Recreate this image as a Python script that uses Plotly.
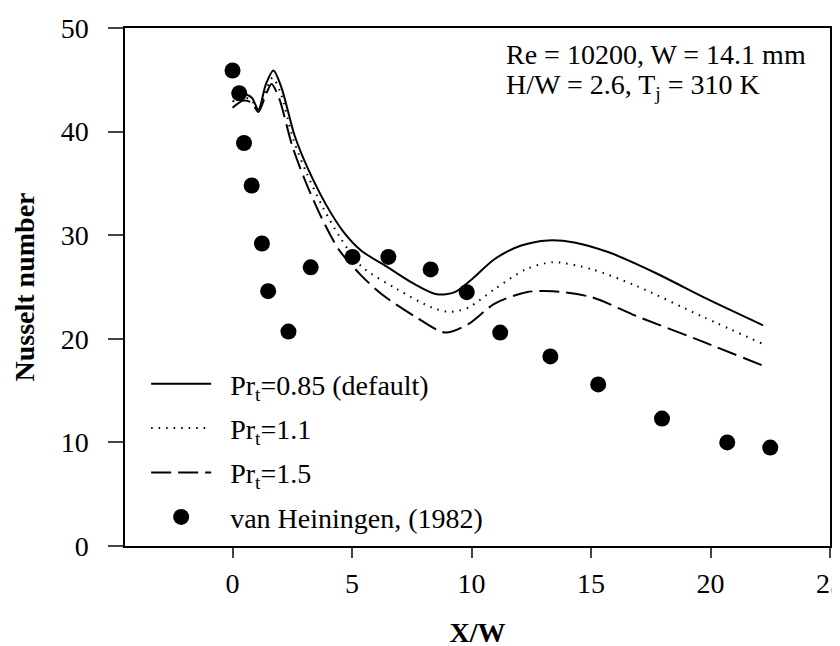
import plotly.graph_objects as go

# Experimental data (van Heiningen, 1982)
exp_x = [0.0, 0.28, 0.48, 0.8, 1.23, 1.49, 2.34, 3.27, 5.02, 6.52, 8.29, 9.8, 11.2, 13.3, 15.3, 17.97, 20.7, 22.5]
exp_y = [45.9, 43.7, 38.9, 34.8, 29.2, 24.6, 20.7, 26.9, 27.9, 27.9, 26.7, 24.5, 20.6, 18.3, 15.6, 12.3, 10.0, 9.5]

# Pr_t = 0.85 (default)
s_x = [0.0, 0.45, 0.8, 1.08, 1.4, 1.71, 2.04, 2.6, 3.16, 3.9, 4.65, 5.39, 6.5, 7.6, 8.55, 9.3, 10.04, 10.97, 12.08, 13.2, 14.3, 15.8, 17.66, 19.9, 22.2]
s_y = [43.3, 43.6, 43.3, 42.1, 44.6, 45.9, 44.3, 39.6, 36.4, 33.0, 30.3, 28.5, 26.9, 25.3, 24.3, 24.5, 25.8, 27.7, 29.0, 29.5, 29.3, 28.3, 26.4, 23.8, 21.3]

# Pr_t = 1.1
d_x = [0.0, 0.45, 0.8, 1.08, 1.4, 1.68, 2.0, 2.55, 3.1, 3.8, 4.55, 5.39, 6.88, 8.36, 9.1, 9.85, 10.97, 12.27, 13.4, 15.05, 16.9, 19.7, 22.2]
d_y = [42.9, 43.3, 43.0, 42.0, 44.0, 45.2, 43.8, 39.2, 36.0, 32.6, 29.6, 27.0, 24.8, 23.0, 22.6, 23.0, 24.8, 26.7, 27.4, 26.7, 25.1, 22.1, 19.5]

# Pr_t = 1.5
l_x = [0.0, 0.45, 0.8, 1.08, 1.4, 1.63, 1.95, 2.5, 3.05, 3.7, 4.45, 5.39, 6.3, 7.6, 8.9, 9.85, 10.97, 12.3, 13.4, 15.05, 16.9, 19.7, 22.2]
l_y = [42.3, 43.0, 42.8, 41.9, 43.6, 44.6, 43.2, 38.6, 35.2, 31.8, 28.6, 26.1, 24.2, 22.2, 20.6, 21.4, 23.4, 24.5, 24.6, 24.0, 22.2, 19.7, 17.4]

x_ticks = [0, 5, 10, 15, 20, 25]
y_ticks = [0, 10, 20, 30, 40, 50]

FONT = "Liberation Serif, Times New Roman, serif"
FS = 28

fig = go.Figure()
fig.add_trace(go.Scatter(x=s_x, y=s_y, mode="lines", line=dict(color="black", width=2, shape="spline", smoothing=0.8),
                         name="\u2002Pr<sub>t</sub>=0.85 (default)", legendgroup="a"))
fig.add_trace(go.Scatter(x=d_x, y=d_y, mode="lines", line=dict(color="black", width=2, dash="1.5px,6px", shape="spline", smoothing=0.8),
                         name="\u2002Pr<sub>t</sub>=1.1", legendgroup="b"))
fig.add_trace(go.Scatter(x=l_x, y=l_y, mode="lines", line=dict(color="black", width=2, dash="20px,7px", shape="spline", smoothing=0.8),
                         name="\u2002Pr<sub>t</sub>=1.5", legendgroup="c"))
fig.add_trace(go.Scatter(x=exp_x, y=exp_y, mode="markers", marker=dict(color="black", size=16),
                         name="\u2002van Heiningen, (1982)", legendgroup="d"))

fig.update_layout(
    width=840, height=646,
    paper_bgcolor="white", plot_bgcolor="white",
    margin=dict(l=117, r=18, t=20, b=108),
    font=dict(family=FONT, size=FS, color="black"),
    showlegend=True,
    legend=dict(x=0.03, y=0.361, xanchor="left", yanchor="top", bgcolor="rgba(0,0,0,0)",
                font=dict(family=FONT, size=FS), tracegroupgap=5, itemwidth=60),
    xaxis=dict(range=[-4.5, 25], tickvals=x_ticks, ticks="outside", ticklen=10, tickwidth=1.5,
               showline=True, linecolor="black", linewidth=1.5, mirror=True, showgrid=False, zeroline=False,
               automargin=False, ticklabelstandoff=2,
               title=dict(text="<b>X/W</b>", font=dict(family=FONT, size=FS), standoff=24),
               tickfont=dict(family=FONT, size=FS)),
    yaxis=dict(range=[0, 50], tickvals=y_ticks, ticks="outside", ticklen=15, tickwidth=1.5,
               showline=True, linecolor="black", linewidth=1.5, mirror=True, showgrid=False, zeroline=False,
               automargin=False, ticklabelstandoff=14,
               title=dict(text="<b>Nusselt number</b>", font=dict(family=FONT, size=FS), standoff=18),
               tickfont=dict(family=FONT, size=FS)),
    annotations=[
        dict(text="Re = 10200, W = 14.1 mm", xref="paper", yref="paper",
             x=0.538, y=0.949, xanchor="left", yanchor="middle", showarrow=False,
             font=dict(family=FONT, size=FS)),
        dict(text="H/W = 2.6, T<sub>j</sub> = 310 K", xref="paper", yref="paper",
             x=0.538, y=0.887, xanchor="left", yanchor="middle", showarrow=False,
             font=dict(family=FONT, size=FS)),
    ],
)

fig.write_html("out.html")
